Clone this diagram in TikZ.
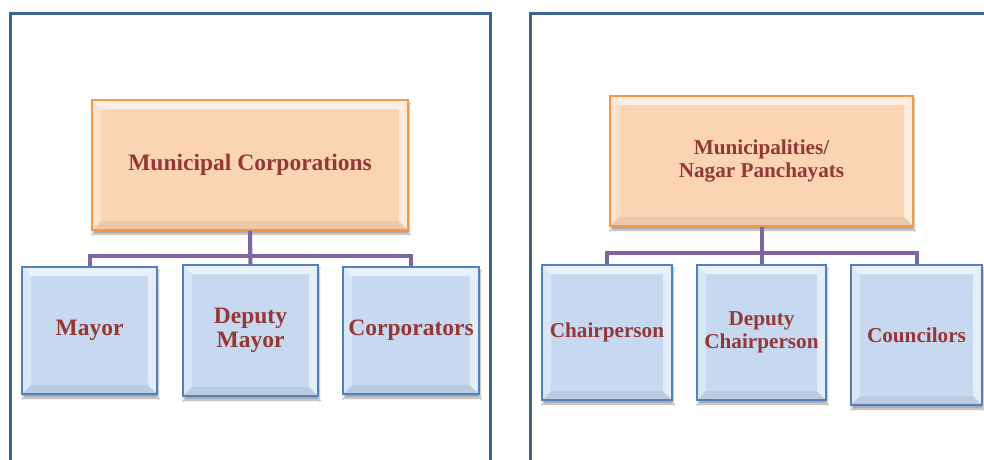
\documentclass[tikz,border=0pt]{standalone}
\usepackage{fontspec}
\setmainfont{Liberation Serif}
\usetikzlibrary{shadows.blur}

\definecolor{framecol}{HTML}{3C6595}
\definecolor{headfill}{HTML}{FBD4B4}
\definecolor{headline}{HTML}{F79646}
\definecolor{subfill}{HTML}{C6D9F1}
\definecolor{subline}{HTML}{4F81BD}
\definecolor{linkcol}{HTML}{8064A2}
\definecolor{labelcol}{HTML}{953735}

\begin{document}
\begin{tikzpicture}[x=1pt,y=-1pt]
		\tikzstyle{bevel}=[path picture={
				\coordinate (bNW) at (path picture bounding box.north west);
				\coordinate (bNE) at (path picture bounding box.north east);
				\coordinate (bSW) at (path picture bounding box.south west);
				\coordinate (bSE) at (path picture bounding box.south east);
				\fill[white,opacity=.65] (bNW) -- (bNE) -- ([shift={(-9pt,-9pt)}]bNE) -- ([shift={(9pt,-9pt)}]bNW) -- cycle;
				\fill[white,opacity=.35] (bNW) -- ([shift={(9pt,-9pt)}]bNW) -- ([shift={(9pt,9pt)}]bSW) -- (bSW) -- cycle;
				\fill[white,opacity=.55] (bNE) -- ([shift={(-9pt,-9pt)}]bNE) -- ([shift={(-9pt,9pt)}]bSE) -- (bSE) -- cycle;
				\fill[black,opacity=.06] (bSW) -- ([shift={(9pt,9pt)}]bSW) -- ([shift={(-9pt,9pt)}]bSE) -- (bSE) -- cycle;
			}]
		\tikzstyle{box}=[rectangle,bevel,line width=1.5pt,inner sep=2pt,align=center,text=labelcol,
			blur shadow={shadow xshift=1pt,shadow yshift=-4pt,shadow opacity=35,shadow blur steps=6}]
		\tikzstyle{head}=[box,draw=headline,fill=headfill]
		\tikzstyle{sub}=[box,draw=subline,fill=subfill]
		\tikzstyle{big}=[font=\bfseries\fontsize{23.5}{24}\selectfont]
		\tikzstyle{small}=[font=\bfseries\fontsize{21.2}{23}\selectfont]
		\tikzstyle{link}=[draw=linkcol,line width=4pt]
		\tikzstyle{frame}=[draw=framecol,line width=3pt]
		
		\useasboundingbox[fill=white] (0,0) rectangle (984,459);
		
		% the two panels, open at the bottom
		\draw[frame] (10,470) -- (10,13) -- (490,13) -- (490,470);
		\draw[frame] (530,470) -- (530,13) -- (1000,13);
		
		% corporations
		\node[head,big,minimum width=316pt,minimum height=130pt] (corpn) at (250,165) {Municipal Corporations};
		\node[sub,big,minimum width=135pt,minimum height=127pt] (mayor) at (89.5,330.5) {Mayor};
		\node[sub,big,minimum width=135pt,minimum height=131pt] (dmayor) at (250.5,330.5) {Deputy\\Mayor};
		\node[sub,big,minimum width=136pt,minimum height=127pt] (corps) at (411,330.5) {Corporators};
		
		\draw[link] (corpn.south) -- (dmayor.north);
		\draw[link] (corpn.south) -- ++(0,25) -| (mayor.north);
		\draw[link] (corpn.south) -- ++(0,25) -| (corps.north);
		
		% municipalities and nagar panchayats
		\node[head,small,minimum width=303pt,minimum height=130pt] (munic) at (761.5,161) {Municipalities/\\Nagar Panchayats};
		\node[sub,small,minimum width=130pt,minimum height=135pt] (chair) at (607,332.5) {Chairperson};
		\node[sub,small,minimum width=129pt,minimum height=135pt] (dchair) at (761.5,332.5) {Deputy\\Chairperson};
		\node[sub,small,minimum width=131pt,minimum height=140pt] (counc) at (916.5,335) {Councilors};
		
		\draw[link] (munic.south) -- (dchair.north);
		\draw[link] (munic.south) -- ++(0,26) -| (chair.north);
		\draw[link] (munic.south) -- ++(0,26) -| (counc.north);
		
\end{tikzpicture}
\end{document}
